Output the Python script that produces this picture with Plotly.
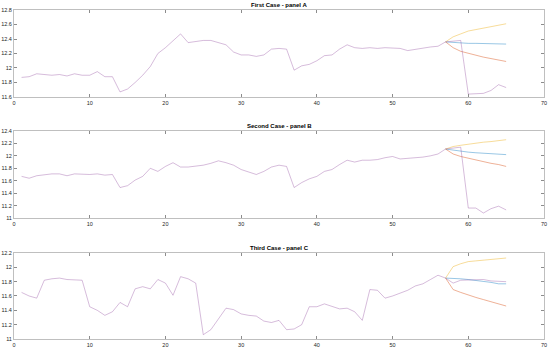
import plotly.graph_objects as go

x_hist = list(range(1, 66))
x_fc = list(range(57, 66))

# Panel A
a_actual = [11.87, 11.88, 11.92, 11.91, 11.90, 11.91, 11.89, 11.92, 11.90, 11.90,
            11.95, 11.88, 11.88, 11.67, 11.71, 11.80, 11.90, 12.02, 12.20, 12.28,
            12.38, 12.47, 12.35, 12.37, 12.38, 12.38, 12.35, 12.32, 12.22, 12.18,
            12.18, 12.16, 12.18, 12.26, 12.27, 12.26, 11.97, 12.03, 12.05, 12.10,
            12.17, 12.18, 12.26, 12.32, 12.28, 12.27, 12.28, 12.27, 12.28, 12.28,
            12.27, 12.24, 12.26, 12.27, 12.29, 12.30, 12.36, 12.37, 12.38, 11.64,
            11.65, 11.65, 11.69, 11.77, 11.73]
a_high = [12.36, 12.43, 12.47, 12.51, 12.53, 12.55, 12.57, 12.59, 12.61]
a_mid = [12.36, 12.35, 12.35, 12.34, 12.34, 12.34, 12.34, 12.33, 12.33]
a_low = [12.36, 12.28, 12.23, 12.20, 12.17, 12.15, 12.13, 12.11, 12.09]

# Panel B
b_actual = [11.67, 11.64, 11.68, 11.70, 11.71, 11.71, 11.68, 11.71, 11.70, 11.70,
            11.71, 11.69, 11.70, 11.49, 11.52, 11.61, 11.67, 11.80, 11.75, 11.83,
            11.89, 11.82, 11.82, 11.83, 11.85, 11.88, 11.92, 11.89, 11.85, 11.78,
            11.74, 11.70, 11.75, 11.82, 11.85, 11.83, 11.49, 11.57, 11.63, 11.67,
            11.75, 11.78, 11.86, 11.93, 11.90, 11.93, 11.93, 11.94, 11.97, 11.99,
            11.95, 11.96, 11.96, 11.98, 12.00, 12.03, 12.11, 12.13, 12.14, 11.16,
            11.16, 11.08, 11.15, 11.19, 11.13]
b_high = [12.11, 12.15, 12.17, 12.19, 12.20, 12.22, 12.23, 12.25, 12.26]
b_mid = [12.11, 12.09, 12.08, 12.06, 12.05, 12.04, 12.03, 12.03, 12.02]
b_low = [12.11, 12.03, 11.99, 11.96, 11.93, 11.90, 11.88, 11.86, 11.83]

# Panel C
c_actual = [11.65, 11.60, 11.57, 11.82, 11.84, 11.85, 11.83, 11.83, 11.82, 11.45,
            11.40, 11.33, 11.38, 11.51, 11.45, 11.70, 11.73, 11.70, 11.83, 11.78,
            11.61, 11.87, 11.84, 11.78, 11.06, 11.13, 11.28, 11.43, 11.41, 11.35,
            11.33, 11.32, 11.25, 11.23, 11.26, 11.13, 11.14, 11.20, 11.45, 11.45,
            11.49, 11.46, 11.42, 11.43, 11.38, 11.26, 11.69, 11.68, 11.57, 11.60,
            11.64, 11.68, 11.74, 11.77, 11.83, 11.89, 11.85, 11.78, 11.82, 11.82,
            11.83, 11.83, 11.81, 11.80, 11.80]
c_high = [11.85, 12.01, 12.05, 12.08, 12.09, 12.10, 12.11, 12.11, 12.13]
c_mid = [11.85, 11.85, 11.84, 11.83, 11.82, 11.80, 11.79, 11.77, 11.77]
c_low = [11.85, 11.69, 11.65, 11.61, 11.58, 11.55, 11.52, 11.49, 11.46]

titles = ["First Case - panel A", "Second Case - panel B", "Third Case - panel C"]
y_ranges = [[11.6, 12.8], [11.0, 12.4], [11.0, 12.2]]
y_ticks = [[11.6, 11.8, 12.0, 12.2, 12.4, 12.6, 12.8],
           [11.0, 11.2, 11.4, 11.6, 11.8, 12.0, 12.2, 12.4],
           [11.0, 11.2, 11.4, 11.6, 11.8, 12.0, 12.2]]
x_ticks = [0, 10, 20, 30, 40, 50, 60, 70]

panels = [(a_actual, a_high, a_mid, a_low),
          (b_actual, b_high, b_mid, b_low),
          (c_actual, c_high, c_mid, c_low)]

C_BLUE = "rgba(0,114,189,0.4)"
C_RED = "rgba(217,83,25,0.45)"
C_YEL = "rgba(237,177,32,0.45)"
C_PUR = "rgba(126,47,142,0.32)"

domains = [[0.7356, 1.0], [0.3678, 0.6322], [0.0, 0.2614]]

fig = go.Figure()
for i, (act, hi, mid, lo) in enumerate(panels):
    xa = "x" if i == 0 else f"x{i+1}"
    ya = "y" if i == 0 else f"y{i+1}"
    for vals, col in [(mid, C_BLUE), (lo, C_RED), (hi, C_YEL)]:
        fig.add_trace(go.Scatter(x=x_fc, y=vals, mode="lines",
                                 line=dict(color=col, width=1),
                                 xaxis=xa, yaxis=ya, showlegend=False,
                                 hoverinfo="skip"))
    fig.add_trace(go.Scatter(x=x_hist, y=act, mode="lines",
                             line=dict(color=C_PUR, width=1),
                             xaxis=xa, yaxis=ya, showlegend=False,
                             hoverinfo="skip"))

axis_common = dict(showline=True, linecolor="#bfbfbf", linewidth=1, mirror="ticks",
                   ticks="inside", ticklen=3, tickcolor="#8c8c8c", showgrid=False,
                   zeroline=False, automargin=False,
                   tickfont=dict(size=5.5, color="#262626",
                                 family="Liberation Sans, Arial, sans-serif"))

layout = dict(width=550, height=351, paper_bgcolor="white", plot_bgcolor="white",
              margin=dict(l=14, r=6, t=10, b=12), showlegend=False,
              font=dict(family="Liberation Sans, Arial, sans-serif"))
annotations = []
for i in range(3):
    xk = "xaxis" if i == 0 else f"xaxis{i+1}"
    yk = "yaxis" if i == 0 else f"yaxis{i+1}"
    ya = "y" if i == 0 else f"y{i+1}"
    layout[xk] = dict(axis_common, range=[0, 70], tickvals=x_ticks,
                      ticktext=[str(t) for t in x_ticks], anchor=ya,
                      domain=[0, 1], ticklabelstandoff=0)
    layout[yk] = dict(axis_common, range=y_ranges[i], domain=domains[i],
                      tickvals=y_ticks[i], ticklabelstandoff=0,
                      ticktext=[f"{t:g}" for t in y_ticks[i]],
                      anchor="x" if i == 0 else f"x{i+1}")
    annotations.append(dict(text=f"<b>{titles[i]}</b>", x=0.5, xref="paper",
                            y=domains[i][1], yref="paper", yanchor="bottom",
                            yshift=0, showarrow=False,
                            font=dict(size=6, color="black")))
layout["annotations"] = annotations
fig.update_layout(**layout)
fig.write_html("out.html", config={"displayModeBar": False},
               post_script="document.body.style.margin='0';document.body.style.overflow='hidden';")
